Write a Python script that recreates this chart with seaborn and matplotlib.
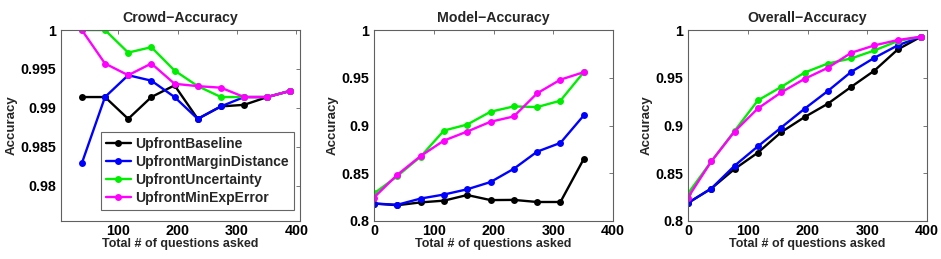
# Accuracy curves for the upfront question-selection strategies
import pandas as pd
import matplotlib
matplotlib.use('Agg')
import matplotlib.pyplot as plt
import seaborn as sns


# DATA ------------

methods = ['UpfrontBaseline', 'UpfrontMarginDistance', 'UpfrontUncertainty', 'UpfrontMinExpError']
colors = ['#000000', '#0000ff', '#00ee00', '#ff00ff']

crowd_x = [39, 78, 117, 156, 195, 234, 273, 312, 351, 390]
crowd_baseline = [0.9914, 0.9914, 0.9886, 0.9914, 0.9929, 0.9886, 0.9902, 0.9904, 0.9914, 0.9922]
crowd_margin = [0.9829, 0.9914, 0.9942, 0.9935, 0.9914, 0.9886, 0.9902, 0.9914, 0.9914, 0.9922]
crowd_uncert = [1.0, 1.0, 0.9971, 0.9978, 0.9948, 0.9928, 0.9914, 0.9914, 0.9914, 0.9922]
crowd_minexp = [1.0, 0.9957, 0.9942, 0.9957, 0.9931, 0.9928, 0.9926, 0.9914, 0.9914, 0.9922]

model_x = [0, 39, 78, 117, 156, 195, 234, 273, 312, 351]
model_baseline = [0.8183, 0.8165, 0.8195, 0.8213, 0.8272, 0.8219, 0.8221, 0.8199, 0.8199, 0.8649]
model_margin = [0.8183, 0.8170, 0.8235, 0.8277, 0.8332, 0.8408, 0.8547, 0.8726, 0.8818, 0.9105]
model_uncert = [0.8288, 0.8470, 0.8674, 0.8947, 0.9010, 0.9144, 0.9200, 0.9193, 0.9260, 0.9558]
model_minexp = [0.8246, 0.8484, 0.8680, 0.8842, 0.8937, 0.9039, 0.9095, 0.9337, 0.9480, 0.9558]

overall_x = [0, 39, 78, 117, 156, 195, 234, 273, 312, 351, 390]
overall_baseline = [0.8189, 0.8340, 0.8545, 0.8716, 0.8930, 0.9088, 0.9228, 0.9404, 0.9575, 0.9796, 0.9930]
overall_margin = [0.8189, 0.8340, 0.8579, 0.8782, 0.8979, 0.9175, 0.9361, 0.9561, 0.9709, 0.9839, 0.9930]
overall_uncert = [0.8288, 0.8624, 0.8944, 0.9263, 0.9404, 0.9554, 0.9649, 0.9702, 0.9786, 0.9884, 0.9930]
overall_minexp = [0.8246, 0.8624, 0.8937, 0.9179, 0.9347, 0.9488, 0.9604, 0.9761, 0.9839, 0.9895, 0.9930]

titles = ['Crowd\u2212Accuracy', 'Model\u2212Accuracy', 'Overall\u2212Accuracy']
x_label = 'Total # of questions asked'
y_label = 'Accuracy'


def long_frame(x, series):
    rows = []
    for name, vals in zip(methods, series):
        for xi, yi in zip(x, vals):
            rows.append({'questions': xi, 'accuracy': yi, 'method': name})
    return pd.DataFrame(rows)


panels = [
    long_frame(crowd_x, [crowd_baseline, crowd_margin, crowd_uncert, crowd_minexp]),
    long_frame(model_x, [model_baseline, model_margin, model_uncert, model_minexp]),
    long_frame(overall_x, [overall_baseline, overall_margin, overall_uncert, overall_minexp]),
]


# STYLE ------------

sns.set_style('white')
plt.rcParams['font.family'] = ['Liberation Sans', 'DejaVu Sans']
plt.rcParams['font.weight'] = 'bold'
plt.rcParams['font.size'] = 10
plt.rcParams['axes.labelweight'] = 'bold'
plt.rcParams['axes.titleweight'] = 'bold'
plt.rcParams['axes.edgecolor'] = '#606060'
plt.rcParams['axes.linewidth'] = 0.8
plt.rcParams['xtick.direction'] = 'in'
plt.rcParams['ytick.direction'] = 'in'
plt.rcParams['xtick.top'] = True
plt.rcParams['ytick.right'] = True
plt.rcParams['xtick.color'] = '#606060'
plt.rcParams['ytick.color'] = '#606060'
plt.rcParams['xtick.labelcolor'] = 'black'
plt.rcParams['ytick.labelcolor'] = 'black'
plt.rcParams['xtick.labelsize'] = 10.3
plt.rcParams['ytick.labelsize'] = 10.3
plt.rcParams['xtick.major.size'] = 3
plt.rcParams['ytick.major.size'] = 3
plt.rcParams['xtick.major.width'] = 0.6
plt.rcParams['ytick.major.width'] = 0.6
plt.rcParams['xtick.major.pad'] = 2.5

palette = dict(zip(methods, colors))


# FIGURE ------------

fig = plt.figure(figsize=(9.41, 2.59), dpi=100)
lefts = [61 / 941, 374 / 941, 688 / 941]
width = 239 / 941
bottom = 1 - 221 / 259
height = 191 / 259

for i, df in enumerate(panels):
    ax = fig.add_axes([lefts[i], bottom, width, height])
    sns.lineplot(
        data=df, x='questions', y='accuracy', hue='method',
        hue_order=methods, palette=palette, marker='o',
        markersize=5, markeredgewidth=0, linewidth=1.7,
        legend=(i == 0), ax=ax,
    )
    ax.set_title(titles[i], fontsize=10.2, pad=6)
    ax.set_xlabel(x_label, fontsize=9, labelpad=0)
    ax.set_ylabel(y_label, fontsize=9.5, labelpad=2)
    for s in ax.spines.values():
        s.set_visible(True)

    if i == 0:
        ax.set_xlim(4, 406)
        ax.set_ylim(0.9755, 1.0)
        ax.set_xticks([100, 200, 300, 400])
        ax.set_yticks([0.98, 0.985, 0.99, 0.995, 1.0])
        ax.set_yticklabels(['0.98', '0.985', '0.99', '0.995', '1'])
        handles, labels = ax.get_legend_handles_labels()
        ax.legend(
            handles, labels, loc='lower right', bbox_to_anchor=(0.975, 0.058),
            frameon=True, fancybox=False, edgecolor='#404040',
            handlelength=1.8, handletextpad=0.35, labelspacing=0.3,
            borderpad=0.35, borderaxespad=0.0,
            prop={'weight': 'bold', 'size': 10},
        )
        ax.get_legend().get_frame().set_linewidth(0.8)
    else:
        ax.set_xlim(0, 400)
        ax.set_ylim(0.8, 1.0)
        ax.set_xticks([0, 100, 200, 300, 400])
        ax.set_yticks([0.8, 0.85, 0.9, 0.95, 1.0])
        ax.set_yticklabels(['0.8', '0.85', '0.9', '0.95', '1'])

fig.savefig('out.png', dpi=100)
